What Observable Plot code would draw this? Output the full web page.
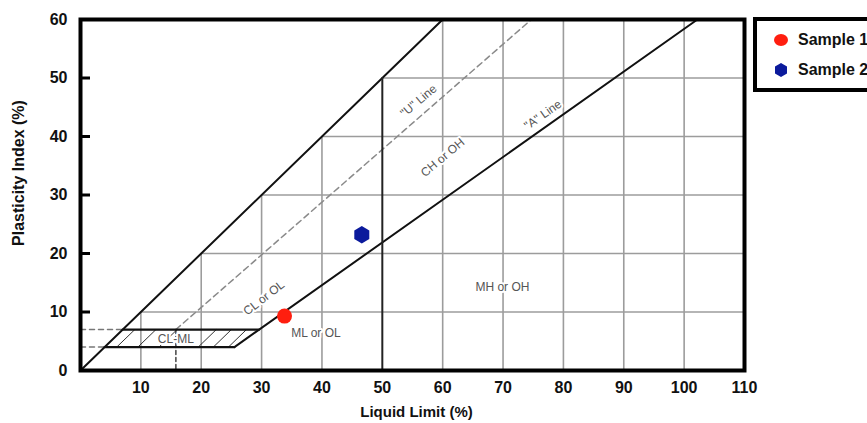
<!DOCTYPE html>
<html>
<head>
<meta charset="utf-8">
<script src="https://cdn.jsdelivr.net/npm/d3@7"></script>
<script src="https://cdn.jsdelivr.net/npm/@observablehq/plot@0.6"></script>
<style>
html, body { margin: 0; padding: 0; background: #fff; overflow: hidden; }
#wrap { position: relative; width: 867px; height: 423px; overflow: hidden; font-family: "Liberation Sans", Arial, sans-serif; }
#legend { position: absolute; left: 753px; top: 17px; width: 170px; height: 75px; box-sizing: border-box; border: 4px solid #000; background: #fff; }
.item { position: absolute; left: 0; height: 20px; display: flex; align-items: center; font-weight: bold; font-size: 16px; white-space: nowrap; color: #111; }
.item svg { margin-left: 16px; margin-right: 9px; }
</style>
</head>
<body>
<div id="wrap"></div>
<script>
// ---- axes ----
const xTicks = [10, 20, 30, 40, 50, 60, 70, 80, 90, 100, 110];
const yTicks = [0, 10, 20, 30, 40, 50, 60];

// ---- samples ----
const sampleNames = ["Sample 1", "Sample 2"];
const liquidLimit = [33.8, 46.6];
const plasticityIndex = [9.3, 23.2];
const sampleColors = ["#ff1e0f", "#0b1a9c"];
const sampleSymbols = ["circle", "hexagon"];

// ---- chart boundary lines (LL, PI) ----
const equalityLine = [{ll: 0, pi: 0}, {ll: 60, pi: 60}];
const aLine = [{ll: 25.5, pi: 4}, {ll: 102.2, pi: 60}];
const uLine = [{ll: 15.8, pi: 7}, {ll: 74.7, pi: 60}];
const uDrop = [{ll: 15.8, pi: 7}, {ll: 15.8, pi: 0}];
const llFifty = [{ll: 50, pi: 0}, {ll: 50, pi: 50}];
const clmlTop = [{ll: 7, pi: 7}, {ll: 29.6, pi: 7}];
const clmlBottom = [{ll: 4, pi: 4}, {ll: 25.5, pi: 4}];
const leadTop = [{ll: 0, pi: 7}, {ll: 7, pi: 7}];
const leadBottom = [{ll: 0, pi: 4}, {ll: 4, pi: 4}];
const hatchStarts = [6, 9.5, 13, 19.5, 22, 24.5];

// ---- zone labels ----
const labelTexts = ["CL or OL", "\"U\" Line", "CH or OH", "\"A\" Line", "ML or OL", "MH or OH", "CL-ML"];
const labelLL = [30.4, 56.0, 60.0, 76.6, 39.0, 69.9, 15.8];
const labelPI = [12.4, 46.1, 36.4, 43.7, 6.3, 14.2, 5.4];
const labelAngle = [-38, -40, -40, -35, 0, 0, 0];

const samples = sampleNames.map((name, i) => ({name, ll: liquidLimit[i], pi: plasticityIndex[i]}));
const labels = labelTexts.map((text, i) => ({text, ll: labelLL[i], pi: labelPI[i], angle: labelAngle[i]}));

const grid = "#9c9c9c";

const chart = Plot.plot({
  width: 867,
  height: 423,
  marginLeft: 80,
  marginRight: 123,
  marginTop: 19,
  marginBottom: 53,
  style: {fontFamily: "Liberation Sans, Arial, sans-serif", fontSize: "16px", fontWeight: "bold", color: "#111", background: "#fff"},
  x: {domain: [0, 110]},
  y: {domain: [0, 60]},
  color: {domain: sampleNames, range: sampleColors},
  symbol: {domain: sampleNames, range: sampleSymbols},
  marks: [
    // partial grid (only where PI <= LL)
    Plot.ruleX(xTicks.filter(d => d !== 50 && d !== 110), {x: d => d, y1: 0, y2: d => Math.min(d, 60), stroke: grid, strokeWidth: 1.6}),
    Plot.ruleY(yTicks.filter(d => d > 0 && d < 60), {y: d => d, x1: d => d, x2: 110, stroke: grid, strokeWidth: 1.6}),
    // dashed guides
    Plot.line(uLine, {x: "ll", y: "pi", stroke: "#8a8a8a", strokeWidth: 1.5, strokeDasharray: "6,4"}),
    Plot.line(uDrop, {x: "ll", y: "pi", stroke: "#444", strokeWidth: 1.5, strokeDasharray: "4,3"}),
    Plot.line(leadTop, {x: "ll", y: "pi", stroke: "#777", strokeWidth: 1.5, strokeDasharray: "5,4"}),
    Plot.line(leadBottom, {x: "ll", y: "pi", stroke: "#777", strokeWidth: 1.5, strokeDasharray: "5,4"}),
    // hatching in CL-ML zone
    Plot.link(hatchStarts, {x1: d => d, y1: 4, x2: d => d + 3, y2: 7, stroke: "#333", strokeWidth: 1}),
    // solid boundaries
    Plot.line(equalityLine, {x: "ll", y: "pi", stroke: "#111", strokeWidth: 2}),
    Plot.line(aLine, {x: "ll", y: "pi", stroke: "#111", strokeWidth: 2}),
    Plot.line(llFifty, {x: "ll", y: "pi", stroke: "#222", strokeWidth: 2}),
    Plot.line(clmlTop, {x: "ll", y: "pi", stroke: "#111", strokeWidth: 2.2}),
    Plot.line(clmlBottom, {x: "ll", y: "pi", stroke: "#111", strokeWidth: 2.2}),
    // zone labels
    Plot.text(labels, {x: "ll", y: "pi", text: "text", rotate: "angle", fill: "#555", fontSize: 12, fontWeight: "normal", stroke: "white", strokeWidth: 4}),
    // samples
    Plot.dot(samples, {x: "ll", y: "pi", fill: "name", symbol: "name", r: 7.5}),
    // frame, inward ticks and axes
    Plot.frame({stroke: "#000", strokeWidth: 4}),
    Plot.ruleY(yTicks.filter(d => d > 0 && d < 60), {y: d => d, x1: 0, x2: 0, insetRight: -10, stroke: "#000", strokeWidth: 3}),
    Plot.axisX({ticks: xTicks, tickSize: 0, tickPadding: 11, label: null, fontSize: 16, fontWeight: "bold"}),
    Plot.axisY({ticks: yTicks, tickSize: 0, tickPadding: 13, label: null, fontSize: 16, fontWeight: "bold"}),
    Plot.text(["Liquid Limit (%)"], {frameAnchor: "bottom", lineAnchor: "middle", textAnchor: "middle", dy: 42, dx: 4, fontSize: 15, fontWeight: "bold"}),
    Plot.text(["Plasticity Index (%)"], {frameAnchor: "left", lineAnchor: "middle", textAnchor: "middle", dx: -62, dy: -22, rotate: -90, fontSize: 16, fontWeight: "bold"})
  ]
});

const wrap = document.getElementById("wrap");
wrap.appendChild(chart);

// legend (HTML overlay)
const legend = document.createElement("div");
legend.id = "legend";
const tops = [9, 39];
samples.forEach((s, i) => {
  const item = document.createElement("div");
  item.className = "item";
  item.style.top = tops[i] + "px";
  const c = sampleColors[i];
  let shape;
  if (sampleSymbols[i] === "hexagon") {
    const rx = 6, ry = 7, hy = 3.5;
    shape = `<polygon points="8,${8 - ry} ${8 + rx},${8 - hy} ${8 + rx},${8 + hy} 8,${8 + ry} ${8 - rx},${8 + hy} ${8 - rx},${8 - hy}" fill="${c}"/>`;
  } else {
    shape = `<ellipse cx="8" cy="8" rx="7" ry="6" fill="${c}"/>`;
  }
  item.innerHTML = `<svg width="16" height="16" viewBox="0 0 16 16">${shape}</svg><span>${s.name}</span>`;
  legend.appendChild(item);
});
wrap.appendChild(legend);
</script>
</body>
</html>
